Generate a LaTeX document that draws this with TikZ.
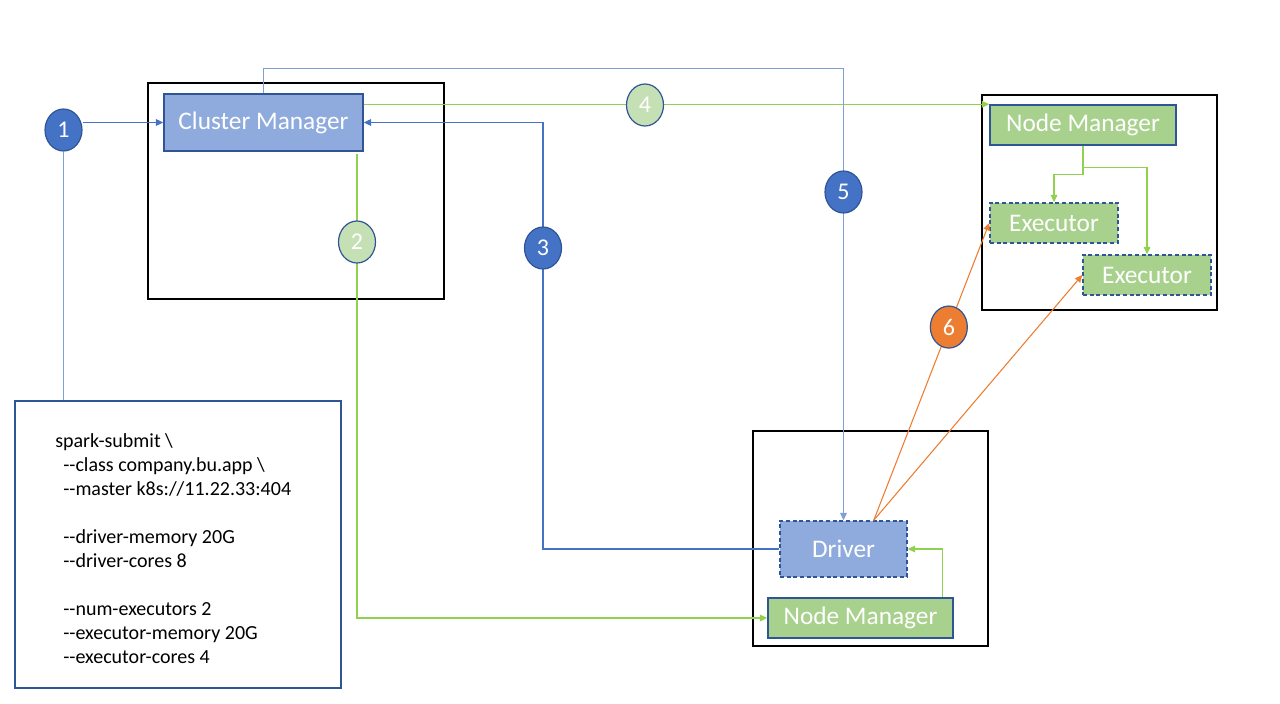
\documentclass[tikz,border=0pt]{standalone}
\usepackage{fontspec}
\setmainfont{Carlito}
\usetikzlibrary{arrows.meta,shapes.geometric}
\definecolor{boxblue}{HTML}{8FAADC}
\definecolor{boxgreen}{HTML}{A9D18E}
\definecolor{navy}{HTML}{2F5597}
\definecolor{numblue}{HTML}{4472C4}
\definecolor{numgreen}{HTML}{C5E0B4}
\definecolor{lnblue}{HTML}{4472C4}
\definecolor{lnlight}{HTML}{7F9FD8}
\definecolor{lngreen}{HTML}{92D050}
\definecolor{lnorange}{HTML}{ED7D31}
\newcommand{\dd}{-{}-}
\tikzset{
  tip/.style={-{Triangle[length=5.5pt,width=5pt]}},
  outerbox/.style={draw=black,line width=1.1pt},
  bluebox/.style={draw=navy,fill=boxblue,line width=1.1pt,text=white,font=\fontsize{19}{22}\selectfont,inner sep=0pt},
  greenbox/.style={draw=navy,fill=boxgreen,line width=1.1pt,text=white,font=\fontsize{19}{22}\selectfont,inner sep=0pt},
  dashbox/.style={dash pattern=on 3pt off 2pt},
  num/.style={ellipse,draw=navy,line width=0.9pt,text=white,minimum width=27.75pt,minimum height=31.5pt,inner sep=0pt,font=\fontsize{18}{20}\selectfont},
  numB/.style={num,fill=numblue},
  numG/.style={num,fill=numgreen},
  numO/.style={num,fill=lnorange},
  bl/.style={draw=lnblue,line width=0.8pt},
  bll/.style={draw=lnlight,line width=0.8pt},
  gl/.style={draw=lngreen,line width=0.8pt},
  ol/.style={draw=lnorange,line width=0.8pt},
  code/.style={anchor=base west,inner sep=0pt,font=\fontsize{15}{18}\selectfont,text=black},
}
\begin{document}
\begin{tikzpicture}[x=0.75pt,y=-0.75pt]
\useasboundingbox (0,0) rectangle (1280,703);
% outer boxes
\draw[outerbox] (148,83) rectangle (444,299);
\draw[outerbox] (982,95) rectangle (1217,310);
\draw[outerbox] (753,431) rectangle (988,646);
% main nodes
\node[bluebox,minimum width=149.25pt,minimum height=42.75pt] (CM) at (263.5,122.5) {Cluster Manager};
\node[greenbox,minimum width=139.5pt,minimum height=30pt] (NM1) at (1083,125) {Node Manager};
\node[greenbox,dashbox,minimum width=96pt,minimum height=30pt] (Ex1) at (1054,223) {Executor};
\node[greenbox,dashbox,minimum width=96pt,minimum height=30pt] (Ex2) at (1147,275) {Executor};
\node[bluebox,dashbox,minimum width=95.25pt,minimum height=42pt] (Drv) at (843.5,549) {Driver};
\node[greenbox,minimum width=138.75pt,minimum height=30pt] (NM2) at (860.5,618) {Node Manager};
\node[draw=navy,line width=0.9pt,minimum width=244.5pt,minimum height=215.25pt,inner sep=0pt] (spark) at (178,544.5) {};
% code text
\node[code] (t1) at (55,447) {spark-submit \textbackslash};
\node[code] (t2) at (63,471) {\dd class company.bu.app \textbackslash};
\node[code] (t3) at (63,495) {\dd master k8s://11.22.33:404};
\node[code] (t4) at (63,543) {\dd driver-memory 20G};
\node[code] (t5) at (63,567) {\dd driver-cores 8};
\node[code] (t6) at (63,615) {\dd num-executors 2};
\node[code] (t7) at (63,639) {\dd executor-memory 20G};
\node[code] (t8) at (63,663) {\dd executor-cores 4};
% circle 1
\node[numB] (c1) at (63.5,130) {1};
\draw[bl,tip] (c1.east |- CM.west) -- (CM.west);
\draw[bll] (c1.south) -- (c1.south |- spark.north);
% circle coordinates
\coordinate (p2) at (357,242);
\coordinate (p3) at (543,248);
\coordinate (p4) at (645,105);
\coordinate (p5) at (843.5,192);
% connector 2
\draw[gl,tip] ([yshift=-2pt]p2 |- CM.south) -- (p2 |- NM2.west) -- (NM2.west);
% connector 3
\draw[bl,tip] (Drv.west) -| (p3) -- (p3 |- CM.east) -- (CM.east);
% connector 4
\draw[gl,tip] (NM1.north west -| CM.east) -- (NM1.north west);
% connector 5
\draw[bll,tip] (CM.north) -- ++(0,-25) -| (Drv.north);
% node manager to executors
\draw[gl,tip] (NM1.south) -- ++(0,29) -| (Ex1.north);
\draw[gl,tip] (NM1.south) -- ++(0,22) -| (Ex2.north);
% node manager to driver
\draw[gl,tip] ([xshift=-8.25pt]NM2.north east) |- (Drv.east);
% orange
\coordinate (d6) at ([xshift=-25.5pt]Drv.north east);
\draw[ol,tip] (d6) -- (Ex1.west) node[numO,pos=0.65] (c6) {6};
\draw[ol,tip] (d6) -- (Ex2.west);
% circles on top
\node[numG] (c2) at (p2) {2};
\node[numB] (c3) at (p3) {3};
\node[numG] (c4) at (p4) {4};
\node[numB] (c5) at (p5) {5};
\end{tikzpicture}
\end{document}
